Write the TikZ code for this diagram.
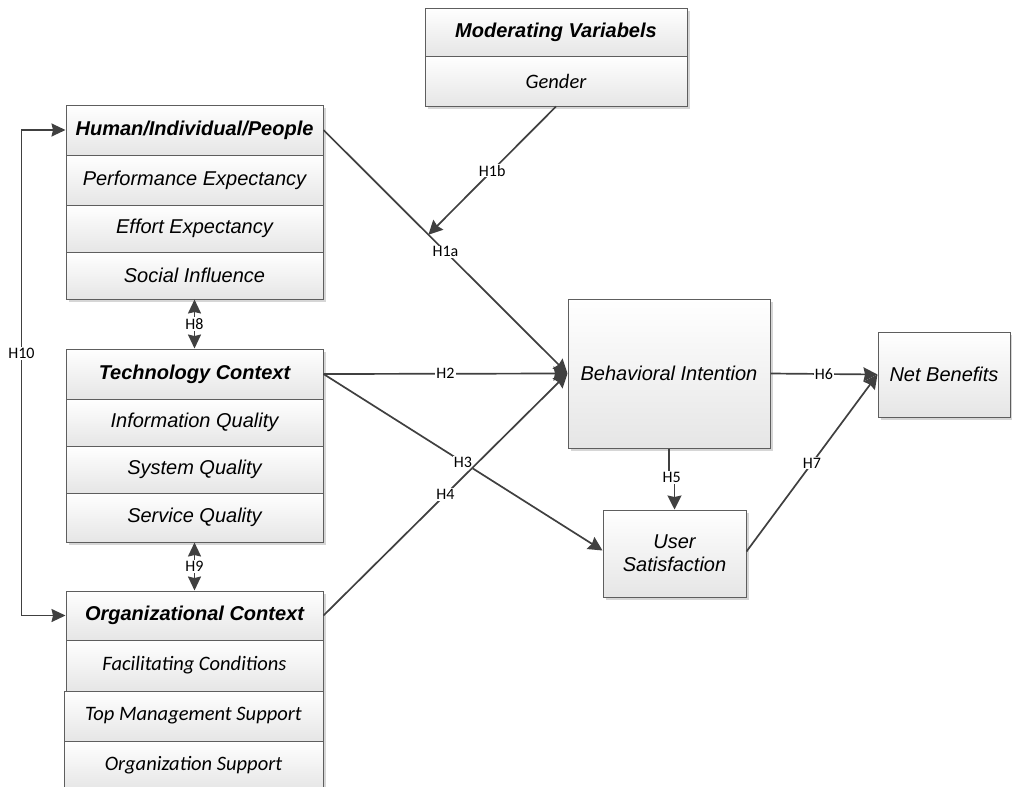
\documentclass[tikz,border=0pt]{standalone}
\usepackage{fontspec}
\setmainfont{Liberation Sans}
\newfontfamily\calfont{Carlito}
\usetikzlibrary{arrows.meta,shadows,calc}
\definecolor{linec}{HTML}{404040}
\definecolor{boxc}{HTML}{5E5E5E}
\tikzset{
  box/.style={draw=boxc, line width=1pt, top color=white, bottom color=black!10,
    general shadow={fill=black!16, shadow xshift=3pt, shadow yshift=-3pt},
    inner sep=0pt, align=center, font=\fontsize{20}{23}\selectfont\itshape},
  hdr/.style={box, font=\fontsize{20}{23}\selectfont\bfseries\itshape},
  cal/.style={box, font=\calfont\fontsize{20.5}{24}\selectfont\itshape},
  conn/.style={draw=linec, line width=1.7pt},
  arr/.style={conn, -{Stealth[length=14pt,width=14pt,inset=1.5pt]}},
  darr/.style={conn, {Stealth[length=14pt,width=13pt,inset=1.5pt]}-{Stealth[length=14pt,width=13pt,inset=1.5pt]}},
  lbl/.style={fill=white, inner sep=1pt, text=black, font=\calfont\fontsize{16}{18}\selectfont}
}
\begin{document}
\begin{tikzpicture}[x=1pt,y=-1pt]
\useasboundingbox[fill=white] (0,0) rectangle (1012,787);
% Moderating
\node[hdr, minimum width=262pt, minimum height=48pt] (mod) at (556,32) {Moderating Variabels};
\node[cal, minimum width=262pt, minimum height=50pt] (gender) at (556,81) {Gender};
% Human
\node[hdr, minimum width=257pt, minimum height=50pt] (human) at (194.5,130) {Human/Individual/People};
\node[box, minimum width=257pt, minimum height=50pt] (perf) at (194.5,180) {Performance Expectancy};
\node[box, minimum width=257pt, minimum height=47pt] (effort) at (194.5,228.5) {Effort Expectancy};
\node[box, minimum width=257pt, minimum height=47pt] (social) at (194.5,275.5) {Social Influence};
% Technology
\node[hdr, minimum width=257pt, minimum height=50pt] (tech) at (194.5,374) {Technology Context};
\node[box, minimum width=257pt, minimum height=47pt] (info) at (194.5,422.5) {Information Quality};
\node[box, minimum width=257pt, minimum height=47pt] (sys) at (194.5,469.5) {System Quality};
\node[box, minimum width=257pt, minimum height=49pt] (serv) at (194.5,517.5) {Service Quality};
% Organizational
\node[hdr, minimum width=257pt, minimum height=49pt] (org) at (194.5,615.5) {Organizational Context};
\node[cal, minimum width=257pt, minimum height=51pt] (facil) at (194.5,665.5) {Facilitating Conditions};
\node[cal, minimum width=259pt, minimum height=50pt] (topm) at (193.5,716) {Top Management Support};
\node[cal, minimum width=259pt, minimum height=49pt] (orgsup) at (193.5,765.5) {Organization Support};
% Right side
\node[box, minimum width=202pt, minimum height=149pt] (bi) at (669,373.5) {Behavioral Intention};
\node[box, minimum width=132pt, minimum height=85pt] (nb) at (944,374.5) {Net Benefits};
\node[box, minimum width=143pt, minimum height=87pt] (us) at (674.5,553.5) {User\\Satisfaction};
% Connectors
\draw[arr] (human.east) -- node[lbl]{H1a} (bi.west);
\coordinate (h1bend) at ($(human.east)!0.43!(bi.west)$);
\draw[arr] (gender.south) -- node[lbl]{H1b} (h1bend);
\draw[arr] (tech.east) -- node[lbl]{H2} (bi.west);
\draw[arr] (tech.east) -- node[lbl, pos=0.5]{H3} ($(us.west)+(0,-3)$);
\draw[arr] (org.east) -- node[lbl]{H4} (bi.west);
\draw[arr] (bi.south) -- ++(0,29) -| node[pos=0.25,lbl]{H5} (us.north);
\draw[arr] (bi.east) -- node[lbl]{H6} (nb.west);
\draw[arr] ($(us.east)+(0,-2)$) -- node[lbl]{H7} (nb.west);
\draw[darr] (social.south) -- node[lbl]{H8} (tech.north);
\draw[darr] (serv.south) -- node[lbl]{H9} (org.north);
\draw[darr] (org.west) -- ++(-44,0) |- node[pos=0.27,lbl]{H10} (human.west);
\end{tikzpicture}
\end{document}
